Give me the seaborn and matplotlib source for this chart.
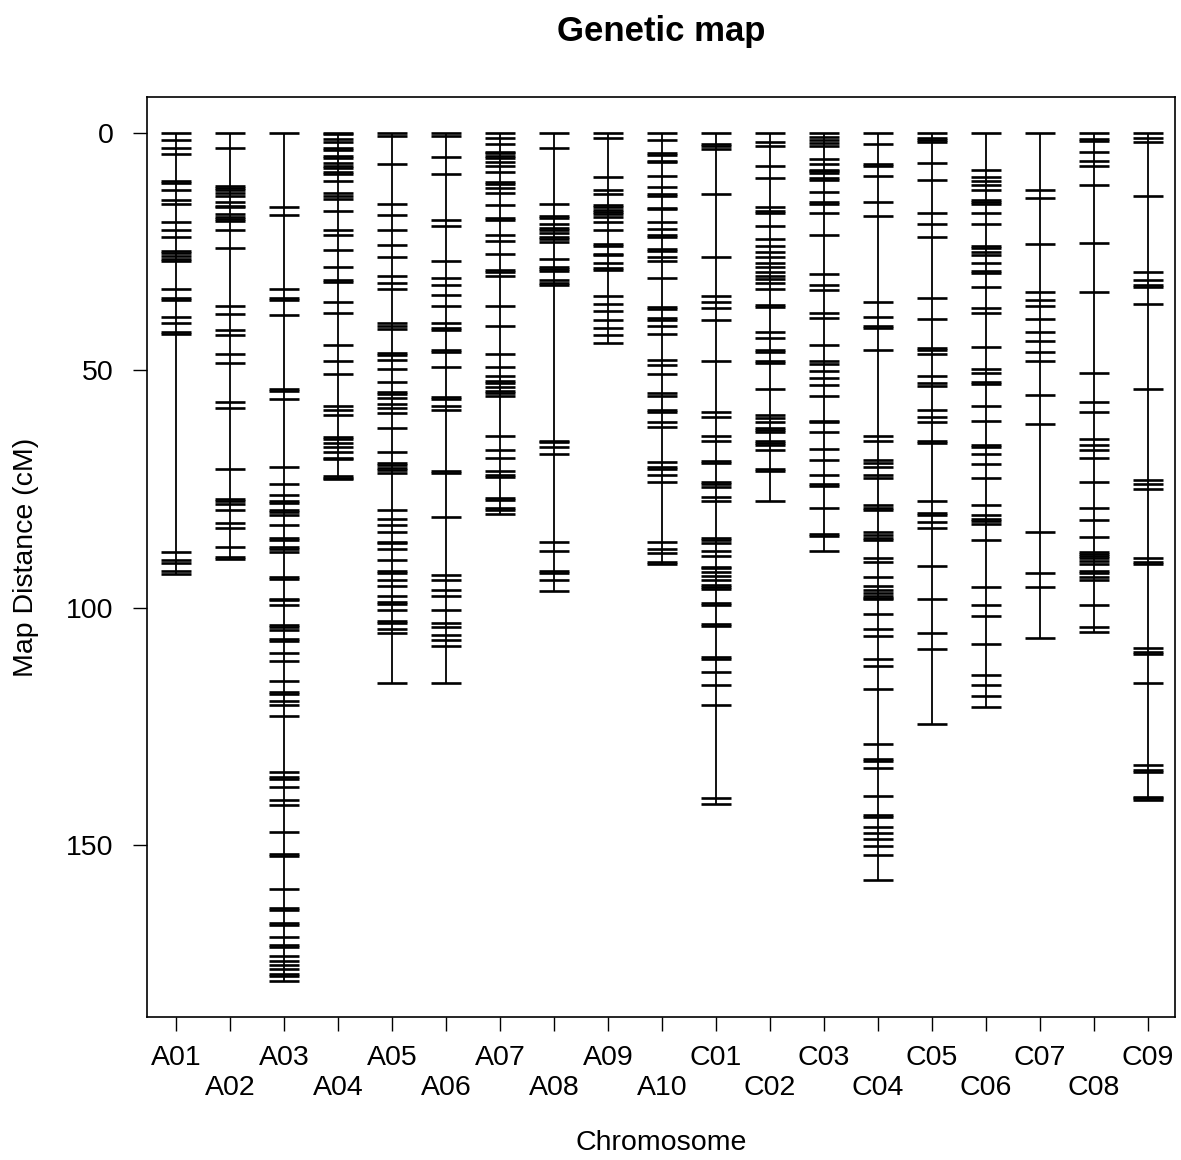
import numpy as np
import pandas as pd
import seaborn as sns
import matplotlib
matplotlib.use("Agg")
import matplotlib.pyplot as plt

# marker positions (cM) per chromosome
chroms = ["A01", "A02", "A03", "A04", "A05", "A06", "A07", "A08", "A09", "A10",
          "C01", "C02", "C03", "C04", "C05", "C06", "C07", "C08", "C09"]

A01 = [0, 1.5, 3.2, 4.4, 10.2, 10.6, 12.1, 14.2, 14.9, 18.8, 20.4, 21.9, 24.9, 25.3,
       26.0, 26.6, 27.0, 32.9, 34.8, 35.2, 38.8, 40.0, 42.0, 42.3, 88.4, 90.0, 90.7,
       92.3, 93.0]
A02 = [0, 3.2, 11.2, 11.6, 12.1, 12.7, 13.3, 14.5, 15.3, 15.6, 17.1, 17.6, 18.2, 18.5,
       20.4, 24.3, 36.4, 38.1, 41.5, 42.6, 46.6, 48.5, 56.7, 57.9, 70.8, 77.2, 77.5,
       78.2, 79.5, 82.2, 83.2, 87.3, 89.4, 89.7]
A03 = [0, 15.6, 17.2, 32.9, 34.8, 35.2, 38.3, 54.0, 54.4, 56.0, 70.4, 74.0, 76.3, 77.5,
       77.9, 79.4, 79.8, 80.5, 82.6, 85.3, 85.7, 87.2, 87.6, 88.4, 93.5, 94.0, 98.1,
       98.5, 99.5, 103.7, 104.1, 104.7, 106.6, 107.0, 109.6, 111.2, 115.5, 117.9, 118.3,
       119.8, 120.5, 122.9, 134.6, 135.8, 136.2, 137.9, 140.5, 141.7, 147.3, 151.9,
       152.3, 159.4, 163.3, 163.7, 166.5, 166.9, 169.5, 171.1, 171.5, 173.5, 174.4,
       175.3, 176.1, 177.2, 177.6, 178.8]
A04 = [0, 0.3, 1.3, 1.8, 3.1, 3.5, 4.9, 5.3, 6.3, 7.0, 7.4, 8.2, 8.6, 10.1, 12.6, 13.3,
       14.0, 16.4, 20.4, 21.5, 24.7, 28.2, 30.9, 31.3, 35.6, 38.0, 44.7, 48.1, 50.8,
       57.5, 58.4, 59.5, 64.1, 64.5, 65.4, 66.2, 67.3, 68.4, 68.8, 72.3, 72.6, 72.9]
A05 = [0, 0.7, 6.6, 14.9, 17.2, 20.4, 23.5, 26.2, 30.2, 31.7, 32.9, 40.0, 40.7, 41.4,
       46.4, 46.8, 47.8, 49.7, 52.5, 54.5, 54.9, 55.9, 57.2, 58.0, 59.0, 62.2, 67.3,
       69.5, 70.0, 70.6, 71.1, 71.7, 79.5, 81.4, 82.6, 84.1, 86.1, 86.5, 87.7, 90.0,
       92.4, 92.8, 94.2, 95.5, 97.6, 98.8, 99.2, 100.6, 102.9, 103.3, 104.6, 105.3, 116.0]
A06 = [0, 0.7, 5.1, 8.6, 18.4, 19.5, 27.0, 30.5, 32.1, 34.1, 36.4, 40.0, 41.1, 41.5,
       45.8, 46.2, 49.3, 55.6, 56.0, 57.5, 58.4, 71.3, 71.7, 81.0, 93.1, 94.3, 96.4,
       97.5, 100.6, 103.3, 104.2, 105.7, 106.8, 108.1, 116.0]
A07 = [0, 1.1, 2.3, 3.9, 4.3, 4.9, 5.3, 6.2, 7.0, 8.2, 10.3, 10.7, 11.6, 12.6, 15.2,
       18.0, 18.4, 21.5, 22.7, 25.4, 28.9, 29.3, 30.1, 36.4, 40.7, 46.6, 49.3, 51.3,
       52.2, 52.6, 53.6, 54.3, 54.7, 55.5, 63.8, 66.9, 68.5, 71.3, 72.0, 72.4, 76.9,
       77.3, 79.1, 79.5, 80.2]
A08 = [0, 3.2, 14.9, 17.5, 17.9, 19.2, 20.0, 20.5, 21.0, 22.0, 22.4, 23.0, 26.6, 28.3,
       28.7, 29.1, 31.0, 31.7, 32.1, 64.8, 65.2, 66.1, 67.7, 86.1, 88.1, 92.4, 92.8,
       94.3, 96.6]
A09 = [0, 1.1, 9.3, 12.1, 12.9, 15.2, 15.6, 16.2, 16.6, 17.1, 17.6, 18.8, 20.4, 23.4,
       23.8, 25.4, 25.8, 27.3, 28.5, 28.9, 34.4, 36.0, 37.6, 39.5, 41.1, 42.6, 44.2]
A10 = [0, 1.5, 4.3, 4.7, 5.8, 6.2, 9.0, 11.3, 12.9, 13.3, 15.7, 16.1, 18.8, 20.3, 21.5,
       21.9, 24.4, 24.8, 26.2, 27.0, 30.6, 36.6, 37.0, 38.9, 39.3, 40.7, 42.3, 47.8,
       48.9, 50.8, 54.8, 55.5, 58.4, 58.8, 61.0, 61.9, 69.3, 70.4, 70.8, 72.1, 73.6,
       86.1, 87.6, 88.5, 90.5, 90.9]
C01 = [0, 2.3, 2.7, 3.4, 12.9, 26.2, 34.4, 35.6, 36.8, 39.5, 48.1, 58.7, 59.8, 63.8,
       64.9, 69.2, 69.6, 73.6, 74.0, 74.7, 76.8, 77.6, 85.4, 85.7, 86.5, 88.0, 89.1,
       91.4, 91.7, 92.5, 93.4, 94.2, 95.3, 95.7, 96.1, 99.0, 99.4, 103.4, 103.8, 110.4,
       110.8, 113.6, 116.3, 120.6, 140.2, 141.4]
C02 = [0, 1.8, 2.7, 7.0, 9.4, 15.6, 16.4, 16.8, 19.5, 22.3, 23.8, 25.0, 26.2, 27.3,
       28.2, 29.2, 30.1, 30.8, 31.5, 32.8, 36.2, 36.6, 41.9, 43.1, 45.8, 46.2, 48.1,
       48.5, 54.0, 59.5, 60.1, 60.8, 62.2, 62.6, 63.0, 65.0, 65.4, 65.8, 66.9, 70.9,
       71.3, 77.5]
C03 = [0, 0.8, 1.5, 2.1, 2.8, 5.5, 6.6, 7.8, 8.1, 8.4, 9.4, 9.8, 12.5, 14.5, 14.9,
       16.9, 21.5, 29.7, 32.0, 33.1, 37.9, 39.0, 44.7, 48.0, 48.7, 50.1, 51.7, 53.2,
       55.5, 60.6, 61.0, 62.9, 66.5, 68.9, 72.1, 74.0, 74.4, 79.1, 84.5, 84.9, 88.1]
C04 = [0, 2.3, 6.6, 7.0, 9.0, 14.5, 17.5, 35.6, 38.8, 40.7, 41.1, 45.8, 63.8, 64.9,
       68.9, 69.6, 70.3, 72.1, 72.6, 78.4, 79.0, 79.4, 84.1, 84.7, 85.4, 85.8, 89.6,
       90.3, 93.6, 95.5, 96.2, 96.9, 97.6, 97.9, 98.3, 101.4, 104.6, 106.1, 110.8, 112.3,
       117.1, 128.7, 131.9, 132.3, 133.9, 139.8, 143.7, 144.1, 146.3, 147.6, 148.7,
       150.2, 152.2, 157.4]
C05 = [0, 1.1, 1.5, 1.9, 6.3, 9.8, 16.9, 19.2, 21.9, 34.8, 39.1, 45.3, 45.7, 46.5, 51.2,
       52.7, 53.4, 58.4, 59.8, 61.0, 65.0, 65.4, 77.5, 80.1, 80.5, 81.9, 83.3, 91.2,
       98.3, 105.4, 108.8, 124.5]
C06 = [0, 7.8, 9.3, 10.1, 11.0, 12.1, 14.1, 14.6, 15.0, 16.9, 19.2, 23.9, 24.3, 25.0,
       25.8, 27.3, 29.0, 29.4, 32.5, 36.8, 38.0, 45.0, 49.8, 50.6, 52.5, 52.9, 57.6,
       60.7, 65.8, 66.2, 67.7, 69.7, 72.8, 78.3, 80.6, 81.3, 81.7, 82.4, 85.7, 95.6,
       99.5, 101.8, 107.7, 114.3, 116.3, 118.6, 121.0]
C07 = [0, 12.1, 13.6, 23.4, 33.6, 35.2, 36.4, 39.1, 41.9, 43.8, 46.1, 48.1, 55.2, 61.4,
       84.1, 92.8, 95.6, 106.5]
C08 = [0, 1.2, 1.6, 3.9, 5.8, 7.0, 11.0, 23.1, 33.6, 50.5, 56.7, 58.7, 64.5, 65.7, 66.9,
       68.5, 73.6, 79.1, 81.5, 85.2, 88.2, 88.8, 89.2, 89.6, 90.1, 90.8, 92.4, 92.8,
       93.5, 94.3, 99.5, 104.2, 105.1]
C09 = [0, 1.1, 1.8, 13.3, 29.3, 31.0, 32.1, 32.5, 36.0, 54.0, 73.2, 74.0, 75.1, 89.6,
       90.5, 90.9, 108.6, 109.3, 109.7, 116.0, 133.2, 134.2, 134.6, 139.9, 140.2, 140.5]

marker_lists = [A01, A02, A03, A04, A05, A06, A07, A08, A09, A10,
                C01, C02, C03, C04, C05, C06, C07, C08, C09]

rows = []
for i, (c, pos) in enumerate(zip(chroms, marker_lists)):
    for p in pos:
        rows.append({"chrom": c, "x": i + 1, "cM": p})
df = pd.DataFrame(rows)

sns.set_theme(style="white")
plt.rcParams["font.family"] = ["Liberation Sans", "DejaVu Sans"]
plt.rcParams["text.color"] = "black"
plt.rcParams["axes.labelcolor"] = "black"
plt.rcParams["axes.titlecolor"] = "black"

fig = plt.figure(figsize=(11.81, 11.60), dpi=100)
ax = fig.add_axes([147 / 1181, 1 - 1017 / 1160, (1175 - 147) / 1181, (1017 - 97) / 1160])

# chromosome backbones
lengths = df.groupby("x")["cM"].max()
ax.vlines(lengths.index, 0, lengths.values, color="black", linewidth=1.3, zorder=2)

# marker ticks
sns.scatterplot(data=df, x="x", y="cM", marker="_", s=470, linewidth=1.9,
                color="black", ax=ax, legend=False, zorder=3)

ax.set_xlim(0.463, 19.5)
ax.set_ylim(186.3, -7.6)

ax.set_xticks(range(1, len(chroms) + 1))
ax.set_xticklabels(chroms)
ax.set_yticks([0, 50, 100, 150])
ax.set_yticklabels(["0", "50", "100", "150"])

ax.tick_params(axis="both", which="major", direction="out", length=10, width=1.0,
               color="black", labelsize=20.5, labelcolor="black", bottom=True, left=True)
ax.tick_params(axis="x", pad=10)
ax.tick_params(axis="y", pad=14)
for i, tick in enumerate(ax.xaxis.get_major_ticks()):
    if i % 2 == 1:
        tick.set_pad(10 + 21.5)

for side in ax.spines.values():
    side.set_color("black")
    side.set_linewidth(1.2)

ax.set_xlabel("Chromosome", fontsize=20.5, va="center")
ax.xaxis.set_label_coords(0.5, (1017 - 1143) / 920)
ax.set_ylabel("Map Distance (cM)", fontsize=20.5, va="center")
ax.yaxis.set_label_coords((26 - 147) / 1028, 0.5)
ax.set_title("Genetic map", fontsize=25, fontweight="bold", y=1 + 66 / 920, va="center", pad=0)

fig.savefig("out.png", dpi=100)
